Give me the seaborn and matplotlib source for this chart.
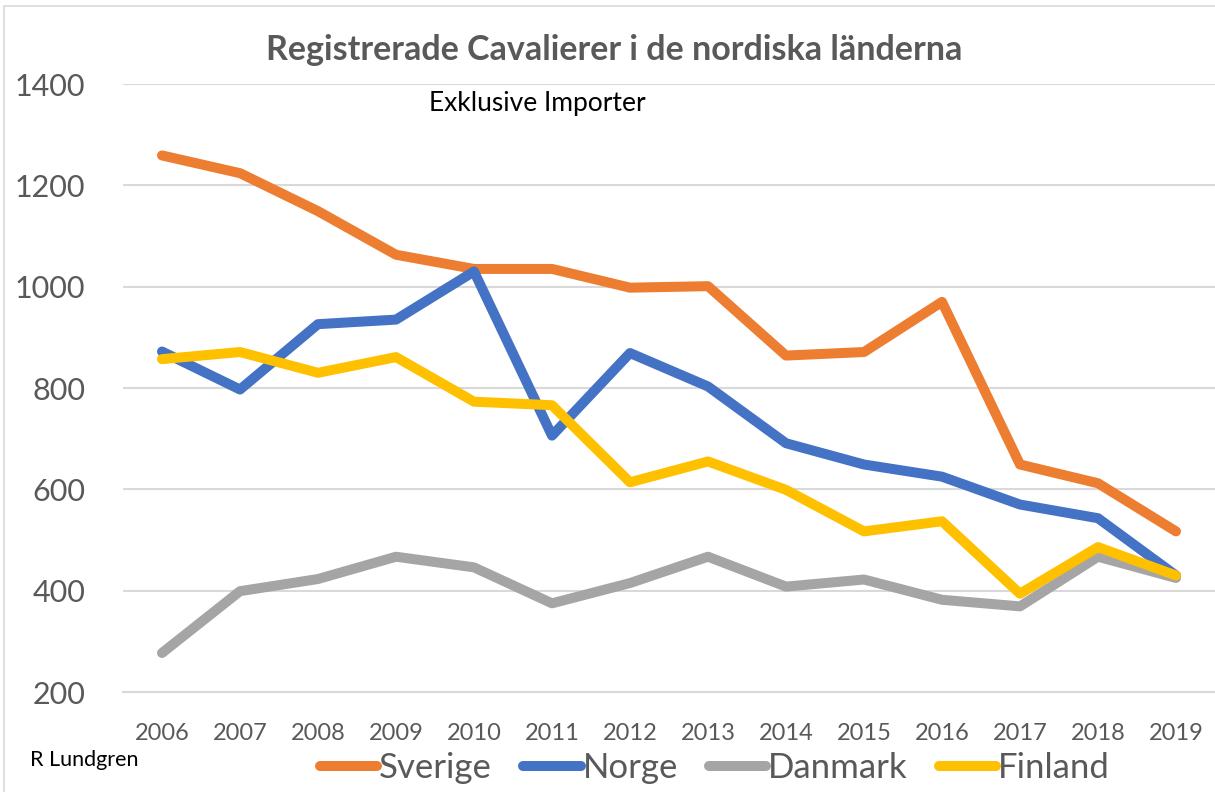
import pandas as pd
import matplotlib.pyplot as plt
import seaborn as sns
from matplotlib.patches import Rectangle

# Values
years = list(range(2006, 2020))
sverige = [1259, 1224, 1149, 1063, 1035, 1035, 998, 1001, 864, 871, 970, 649, 612, 517]
norge = [872, 797, 926, 935, 1030, 706, 869, 803, 691, 649, 625, 570, 543, 430]
danmark = [277, 399, 423, 467, 446, 375, 415, 467, 408, 422, 382, 369, 467, 425]
finland = [857, 871, 830, 861, 773, 766, 614, 655, 599, 517, 537, 394, 486, 430]
countries = ["Sverige", "Norge", "Danmark", "Finland"]
colors = ["#ED7D31", "#4472C4", "#A5A5A5", "#FFC000"]

df = pd.DataFrame({"Year": years, "Sverige": sverige, "Norge": norge,
                   "Danmark": danmark, "Finland": finland})
df_long = df.melt(id_vars="Year", var_name="Land", value_name="Antal")

sns.set_theme(style="white")
plt.rcParams["font.family"] = ["Lato", "DejaVu Sans"]

fig = plt.figure(figsize=(12.15, 7.92), dpi=100)
ax = fig.add_axes([123 / 1215, 100 / 792, 1092 / 1215, 608 / 792])

sns.lineplot(data=df_long, x="Year", y="Antal", hue="Land", hue_order=countries,
             palette=colors, linewidth=7.2, solid_capstyle="round",
             solid_joinstyle="round", ax=ax)

ax.set_xlim(2005.5, 2019.5)
ax.set_ylim(200, 1400)
ax.set_yticks(range(200, 1401, 200))
ax.set_xticks(years)
ax.set_xticks([y - 0.5 for y in years] + [2019.5], minor=True)
ax.grid(axis="y", color="#d9d9d9", linewidth=1.5)
ax.set_axisbelow(True)
for s in ["top", "right", "left"]:
    ax.spines[s].set_visible(False)
ax.spines["bottom"].set_color("#d9d9d9")
ax.spines["bottom"].set_linewidth(1.5)
ax.tick_params(axis="x", which="major", length=0, pad=22, labelsize=17, labelcolor="#595959")
ax.tick_params(axis="x", which="minor", length=6.5, width=1.2, color="#d9d9d9", direction="out")
ax.tick_params(axis="y", length=0, pad=27, labelsize=22, labelcolor="#595959")
ax.set_xlabel("")
ax.set_ylabel("")

handles, labels = ax.get_legend_handles_labels()
ax.get_legend().remove()
fig.legend(handles, labels, loc="center", bbox_to_anchor=(715 / 1215, 0.03), ncol=4,
           frameon=False, fontsize=25, handlelength=1.65, handletextpad=0.05,
           columnspacing=0.9, labelcolor="#595959")

fig.text(614 / 1215, 1 - 50 / 792, "Registrerade Cavalierer i de nordiska länderna",
         ha="center", va="center", fontsize=24.5, fontweight="bold", color="#595959")
fig.text(537 / 1215, 1 - 103 / 792, "Exklusive Importer", ha="center", va="center",
         fontsize=19, color="black")
fig.text(30 / 1215, 1 - 760 / 792, "R Lundgren", ha="left", va="center",
         fontsize=15.5, color="black")

fig.patches.append(Rectangle((4 / 1215, -0.01), 1.0, 1 - 6 / 792 + 0.01,
                             transform=fig.transFigure, fill=False,
                             edgecolor="#d9d9d9", linewidth=1.2))

fig.savefig("out.png", dpi=100)
